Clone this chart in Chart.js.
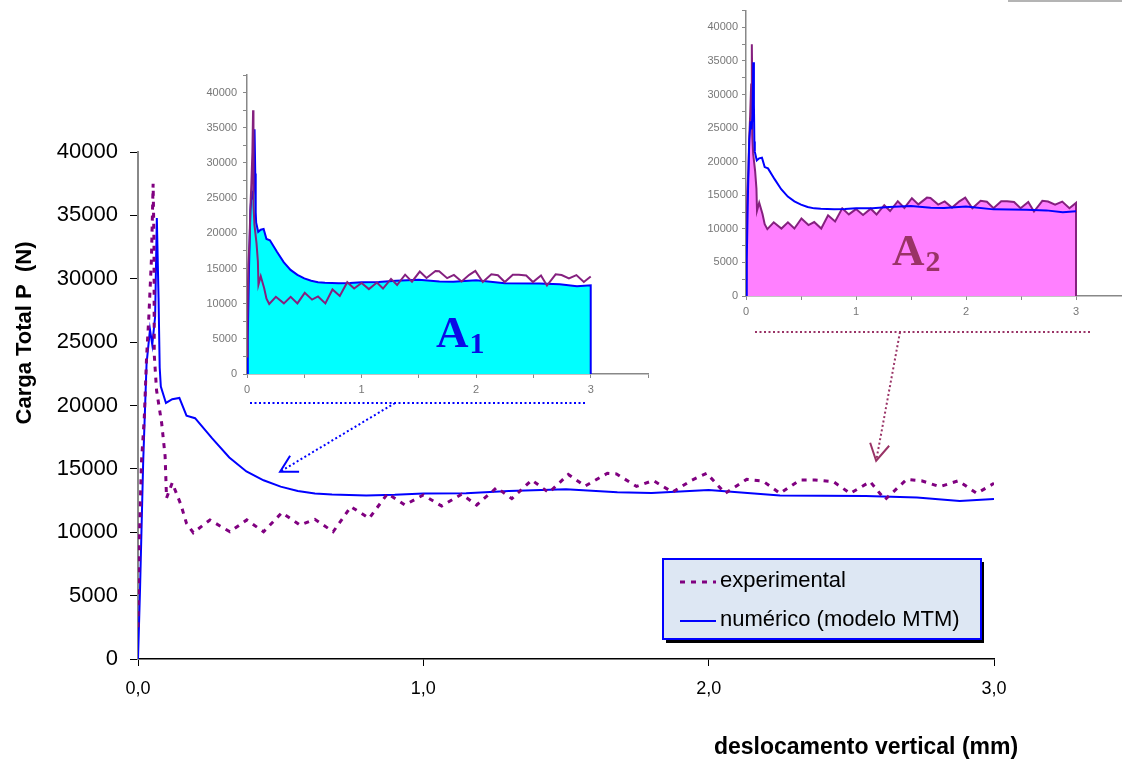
<!DOCTYPE html>
<html lang="pt">
<head>
    <meta charset="UTF-8">
    <title>Carga total x deslocamento vertical</title>
    <script src="https://cdn.jsdelivr.net/npm/chart.js@4.4.1/dist/chart.umd.min.js"></script>
    <style>
        html, body { margin: 0; padding: 0; background: #fff; overflow: hidden; }
        .wrap { position: relative; width: 1122px; height: 762px; }
        .wrap canvas { position: absolute; }
        #mainChart { left: 0; top: 0; }
        #insetA1 { left: 196px; top: 60px; }
        #insetA2 { left: 696px; top: 0; }
        .frame { position: absolute; left: 1008px; top: 0; width: 114px; height: 2px; background: #b4b4b4; }
    </style>
</head>
<body>
    <div class="wrap">
        <canvas id="mainChart" width="1122" height="762"></canvas>
        <canvas id="insetA1" width="470" height="340"></canvas>
        <canvas id="insetA2" width="450" height="330"></canvas>
        <div class="frame"></div>
    </div>

    <script>
        // valores (deslocamento em mm, carga em N)
        const expX = [0, 0.003, 0.012, 0.022, 0.03, 0.038, 0.047, 0.053, 0.056, 0.057, 0.065, 0.083, 0.095, 0.1,
            0.12, 0.15, 0.17, 0.194, 0.252, 0.322, 0.381, 0.44, 0.504, 0.568, 0.62, 0.684, 0.746, 0.81, 0.875,
            0.935, 1.0, 1.064, 1.134, 1.187, 1.257, 1.31, 1.38, 1.44, 1.508, 1.567, 1.645, 1.677, 1.747, 1.806,
            1.873, 1.94, 1.993, 2.058, 2.133, 2.19, 2.25, 2.32, 2.373, 2.437, 2.496, 2.566, 2.618, 2.694, 2.746,
            2.81, 2.875, 2.94, 3.0];
        const expY = [2500, 8000, 15500, 19000, 23800, 27000, 31500, 37500, 33000, 24000, 21200, 18600, 16000, 12700,
            13900, 12200, 10700, 9960, 10970, 10040, 10970, 10040, 11540, 10570, 11020, 10040, 12020, 11100, 13050,
            12150, 12940, 12070, 13000, 12150, 13520, 12650, 14120, 13120, 14560, 13640, 14650, 14600, 13620, 14080,
            13160, 14100, 14650, 13070, 14170, 14040, 13070, 14120, 14120, 13990, 13070, 13990, 12580, 14170, 14060,
            13600, 14060, 13070, 13860];

        const numX = [0, 0.007, 0.018, 0.03, 0.042, 0.05, 0.06, 0.066, 0.072, 0.076, 0.08, 0.098, 0.12, 0.145,
            0.17, 0.2, 0.26, 0.32, 0.38, 0.44, 0.5, 0.56, 0.62, 0.68, 0.8, 0.9, 1.0, 1.15, 1.3, 1.5, 1.68, 1.8,
            2.0, 2.25, 2.55, 2.73, 2.88, 3.0];
        const numY = [0, 5400, 15400, 23300, 26000, 24800, 27000, 34800, 28500, 23000, 21500, 20200, 20500, 20600,
            19200, 19000, 17400, 15900, 14800, 14100, 13600, 13250, 13050, 12980, 12900, 12950, 13050, 13070, 13250,
            13400, 13150, 13100, 13330, 12900, 12860, 12750, 12470, 12620];

        const seriesNames = ['experimental', 'numérico (modelo MTM)'];
        const xTitle = 'deslocamento vertical (mm)';
        const yTitle = 'Carga Total P  (N)';

        const FONT = '"Liberation Sans", Arial, sans-serif';
        const PURPLE = '#800080';
        const BLUE = '#0000ff';

        const toPts = (xs, ys) => xs.map((x, i) => ({ x: x, y: ys[i] }));
        // area fechada ate o eixo em x = 3 (paineis A1 / A2)
        const closed = (xs, ys) => toPts(xs, ys).concat([{ x: xs[xs.length - 1], y: 0 }]);

        // titulos, legenda e setas do grafico principal
        const decorPlugin = {
            id: 'decor',
            afterDraw(chart) {
                const ctx = chart.ctx;
                const xs = chart.scales.x, ys = chart.scales.y;
                ctx.save();

                ctx.fillStyle = '#000';
                ctx.textAlign = 'center';
                ctx.textBaseline = 'middle';
                ctx.font = 'bold 23px ' + FONT;
                ctx.fillText(xTitle, 866, 748);
                ctx.save();
                ctx.translate(25, 333);
                ctx.rotate(-Math.PI / 2);
                ctx.font = 'bold 22px ' + FONT;
                ctx.fillText(yTitle, 0, 0);
                ctx.restore();

                // legenda
                ctx.fillStyle = '#000';
                ctx.fillRect(666, 562, 318, 81);
                ctx.fillStyle = '#dde7f3';
                ctx.fillRect(663, 559, 318, 80);
                ctx.strokeStyle = BLUE;
                ctx.lineWidth = 2;
                ctx.strokeRect(663, 559, 318, 80);
                const ds = chart.data.datasets;
                const rows = [582, 621];
                ds.forEach((d, i) => {
                    ctx.beginPath();
                    ctx.strokeStyle = d.borderColor;
                    ctx.lineWidth = d.borderWidth;
                    ctx.setLineDash(d.borderDash || []);
                    ctx.moveTo(680, rows[i]);
                    ctx.lineTo(716, rows[i]);
                    ctx.stroke();
                    ctx.setLineDash([]);
                    ctx.fillStyle = '#000';
                    ctx.font = '22px ' + FONT;
                    ctx.textAlign = 'left';
                    ctx.textBaseline = 'middle';
                    ctx.fillText(d.label, 720, rows[i] - 1);
                });

                // ligacoes dos paineis
                const arrow = (color, y0, xa, xb, sx, tip, h1, h2) => {
                    ctx.strokeStyle = color;
                    ctx.lineWidth = 2;
                    ctx.setLineDash([2, 2.5]);
                    ctx.beginPath();
                    ctx.moveTo(xa, y0); ctx.lineTo(xb, y0);
                    ctx.moveTo(sx, y0); ctx.lineTo(tip[0], tip[1]);
                    ctx.stroke();
                    ctx.setLineDash([]);
                    ctx.beginPath();
                    ctx.moveTo(tip[0] + h1[0], tip[1] + h1[1]);
                    ctx.lineTo(tip[0], tip[1]);
                    ctx.lineTo(tip[0] + h2[0], tip[1] + h2[1]);
                    ctx.stroke();
                };
                arrow(BLUE, 403, 250, 585, 395,
                    [xs.getPixelForValue(0.498), ys.getPixelForValue(14780)], [10, -16], [19, 0]);
                arrow('#993366', 332, 755, 1090, 900,
                    [xs.getPixelForValue(2.587), ys.getPixelForValue(15640)], [-6, -18], [13, -15]);
                ctx.restore();
            }
        };

        new Chart(document.getElementById('mainChart'), {
            type: 'line',
            data: {
                datasets: [{
                    label: seriesNames[0],
                    data: toPts(expX, expY),
                    borderColor: PURPLE,
                    borderWidth: 3,
                    borderDash: [5, 6],
                    pointRadius: 0,
                    fill: false
                }, {
                    label: seriesNames[1],
                    data: toPts(numX, numY),
                    borderColor: BLUE,
                    borderWidth: 2,
                    pointRadius: 0,
                    fill: false
                }]
            },
            options: {
                responsive: false,
                animation: false,
                layout: { padding: { left: 0, right: 128, top: 152, bottom: 0 } },
                plugins: { legend: { display: false }, tooltip: { enabled: false } },
                scales: {
                    x: {
                        type: 'linear', min: 0, max: 3,
                        afterFit: s => { s.height = 103; },
                        ticks: {
                            stepSize: 1, color: '#000', padding: 12,
                            font: { family: FONT, size: 18 },
                            callback: v => v.toFixed(1).replace('.', ',')
                        },
                        grid: { drawOnChartArea: false, tickLength: 7, color: '#000' },
                        border: { color: '#000', width: 1.5 }
                    },
                    y: {
                        min: 0, max: 40000,
                        afterFit: s => { s.width = 138; },
                        ticks: {
                            stepSize: 5000, color: '#000', padding: 12,
                            font: { family: FONT, size: 22 },
                            callback: v => String(v)
                        },
                        grid: { drawOnChartArea: false, tickLength: 8, color: '#000' },
                        border: { color: '#888', width: 2 }
                    }
                }
            },
            plugins: [decorPlugin]
        });

        // paineis A1 e A2
        const areaLabel = (id, sub, color, x, y) => ({
            id: id,
            afterDraw(chart) {
                const ctx = chart.ctx;
                ctx.save();
                ctx.fillStyle = color;
                ctx.textBaseline = 'alphabetic';
                ctx.textAlign = 'left';
                ctx.font = 'bold 45px "Liberation Serif", "Times New Roman", serif';
                ctx.fillText('A', x, y);
                const w = ctx.measureText('A').width;
                ctx.font = 'bold 30px "Liberation Serif", "Times New Roman", serif';
                ctx.fillText(sub, x + w + 1, y + 6);
                ctx.restore();
            }
        });

        const insetScales = (yw, xh, lpad) => ({
            x: {
                type: 'linear', min: 0, max: 3.5,
                afterFit: s => { s.height = xh; },
                ticks: {
                    stepSize: 0.5, color: '#777', padding: 5,
                    font: { family: FONT, size: 11 },
                    callback: v => Number.isInteger(v) ? String(v) : ''
                },
                grid: { drawOnChartArea: false, tickLength: 4, color: '#888' },
                border: { color: '#888', width: 1.5 }
            },
            y: {
                min: 0, max: 42500,
                afterFit: s => { s.width = yw; },
                ticks: {
                    stepSize: 2500, color: '#777', padding: lpad,
                    font: { family: FONT, size: 11 },
                    callback: v => v % 5000 === 0 ? String(v) : ''
                },
                grid: { drawOnChartArea: false, tickLength: 4, color: '#888' },
                border: { color: '#888', width: 1.5 }
            }
        });

        new Chart(document.getElementById('insetA1'), {
            type: 'line',
            data: {
                datasets: [{
                    data: toPts(expX, expY),
                    borderColor: '#85207f',
                    borderWidth: 2,
                    pointRadius: 0,
                    fill: false
                }, {
                    data: closed(numX, numY),
                    borderColor: BLUE,
                    borderWidth: 2,
                    backgroundColor: '#00ffff',
                    pointRadius: 0,
                    fill: 'origin'
                }]
            },
            options: {
                responsive: false,
                animation: false,
                layout: { padding: { left: 0, right: 18, top: 15, bottom: 0 } },
                plugins: { legend: { display: false }, tooltip: { enabled: false } },
                scales: insetScales(51, 26, 6)
            },
            plugins: [areaLabel('a1', '1', '#0a0ae6', 240, 287)]
        });

        new Chart(document.getElementById('insetA2'), {
            type: 'line',
            data: {
                datasets: [{
                    data: toPts(numX, numY),
                    borderColor: BLUE,
                    borderWidth: 2,
                    pointRadius: 0,
                    fill: false
                }, {
                    data: closed(expX, expY),
                    borderColor: '#85207f',
                    borderWidth: 2,
                    backgroundColor: '#ff80ff',
                    pointRadius: 0,
                    fill: 'origin'
                }]
            },
            options: {
                responsive: false,
                animation: false,
                layout: { padding: { left: 0, right: 15, top: 10, bottom: 0 } },
                plugins: { legend: { display: false }, tooltip: { enabled: false } },
                scales: insetScales(50, 34, 4)
            },
            plugins: [areaLabel('a2', '2', '#993366', 196, 265)]
        });
    </script>
</body>
</html>
